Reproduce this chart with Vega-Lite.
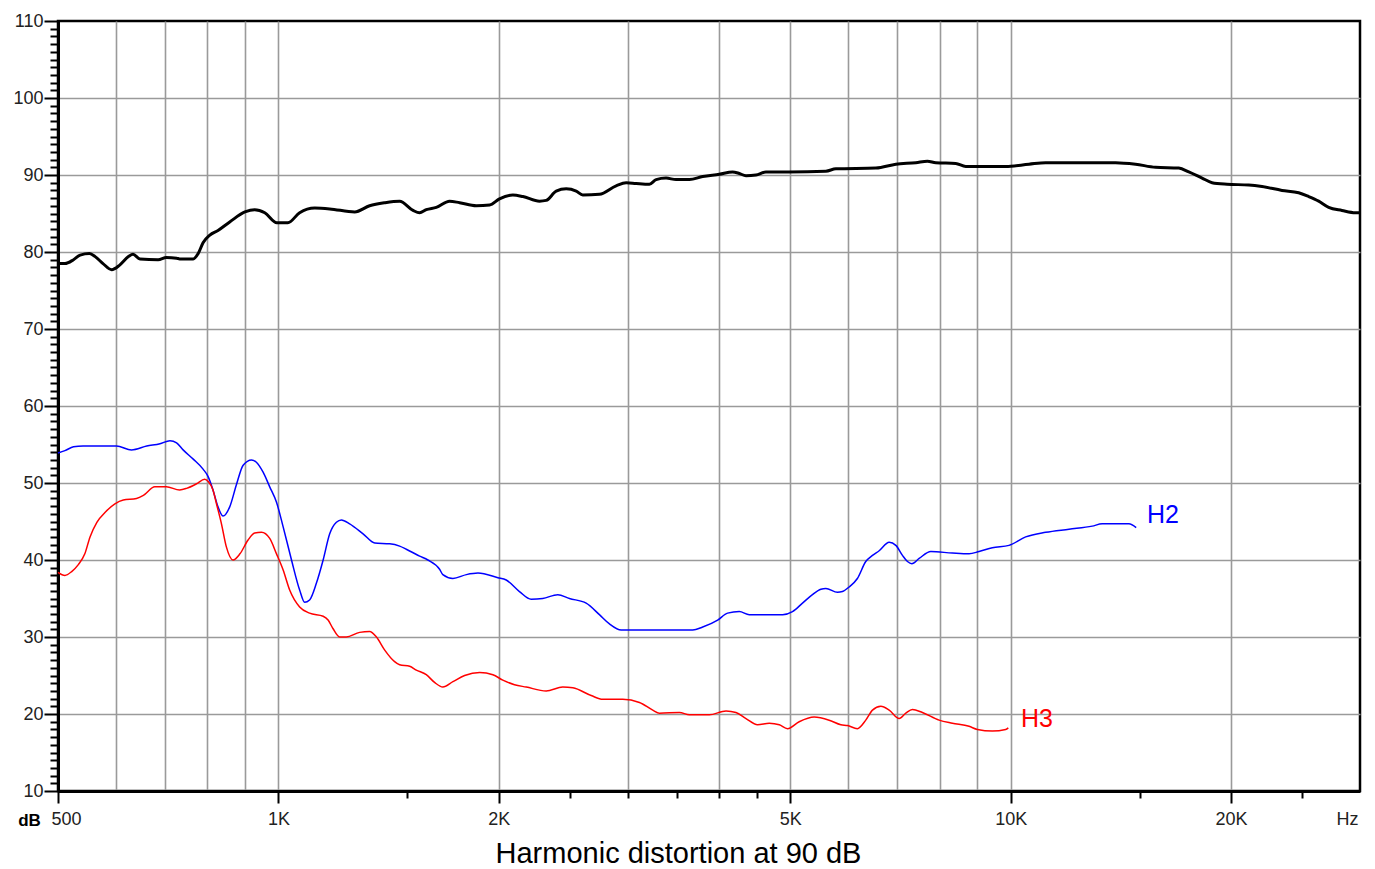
{
  "$schema": "https://vega.github.io/schema/vega-lite/v6.json",
  "width": 1302,
  "height": 770,
  "autosize": {"type": "none"},
  "padding": {"left": 58, "top": 21, "right": 15, "bottom": 78},
  "background": "#ffffff",
  "config": {
    "view": {"stroke": "#000000", "strokeWidth": 2.5},
    "font": "Liberation Sans",
    "axis": {"labelFont": "Liberation Sans", "titleFont": "Liberation Sans"}
  },
  "datasets": {
    "curves": [
      {"s":"SPL","f":500,"db":78.5},{"s":"SPL","f":511,"db":78.5},{"s":"SPL","f":525,"db":79.0},{"s":"SPL","f":536,"db":79.6},{"s":"SPL","f":552,"db":79.8},{"s":"SPL","f":562,"db":79.4},{"s":"SPL","f":576,"db":78.5},{"s":"SPL","f":592,"db":77.7},{"s":"SPL","f":607,"db":78.3},{"s":"SPL","f":624,"db":79.4},{"s":"SPL","f":633,"db":79.7},{"s":"SPL","f":647,"db":79.1},{"s":"SPL","f":685,"db":79.0},{"s":"SPL","f":703,"db":79.3},{"s":"SPL","f":726,"db":79.2},{"s":"SPL","f":733,"db":79.1},{"s":"SPL","f":765,"db":79.1},{"s":"SPL","f":777,"db":79.8},{"s":"SPL","f":789,"db":81.2},{"s":"SPL","f":806,"db":82.2},{"s":"SPL","f":827,"db":82.8},{"s":"SPL","f":858,"db":83.9},{"s":"SPL","f":900,"db":85.2},{"s":"SPL","f":928,"db":85.5},{"s":"SPL","f":958,"db":85.1},{"s":"SPL","f":995,"db":83.8},{"s":"SPL","f":1030,"db":83.8},{"s":"SPL","f":1069,"db":85.1},{"s":"SPL","f":1121,"db":85.7},{"s":"SPL","f":1175,"db":85.6},{"s":"SPL","f":1271,"db":85.2},{"s":"SPL","f":1332,"db":86.0},{"s":"SPL","f":1397,"db":86.4},{"s":"SPL","f":1464,"db":86.6},{"s":"SPL","f":1527,"db":85.4},{"s":"SPL","f":1559,"db":85.1},{"s":"SPL","f":1592,"db":85.5},{"s":"SPL","f":1643,"db":85.8},{"s":"SPL","f":1713,"db":86.6},{"s":"SPL","f":1768,"db":86.4},{"s":"SPL","f":1863,"db":86.0},{"s":"SPL","f":1943,"db":86.1},{"s":"SPL","f":2004,"db":86.9},{"s":"SPL","f":2090,"db":87.4},{"s":"SPL","f":2157,"db":87.2},{"s":"SPL","f":2273,"db":86.6},{"s":"SPL","f":2321,"db":86.7},{"s":"SPL","f":2395,"db":87.9},{"s":"SPL","f":2472,"db":88.2},{"s":"SPL","f":2551,"db":87.9},{"s":"SPL","f":2604,"db":87.4},{"s":"SPL","f":2744,"db":87.5},{"s":"SPL","f":2892,"db":88.6},{"s":"SPL","f":2985,"db":89.0},{"s":"SPL","f":3080,"db":88.9},{"s":"SPL","f":3211,"db":88.8},{"s":"SPL","f":3280,"db":89.4},{"s":"SPL","f":3384,"db":89.6},{"s":"SPL","f":3492,"db":89.4},{"s":"SPL","f":3641,"db":89.4},{"s":"SPL","f":3797,"db":89.8},{"s":"SPL","f":4001,"db":90.1},{"s":"SPL","f":4171,"db":90.4},{"s":"SPL","f":4260,"db":90.2},{"s":"SPL","f":4351,"db":89.9},{"s":"SPL","f":4489,"db":90.0},{"s":"SPL","f":4633,"db":90.4},{"s":"SPL","f":4984,"db":90.4},{"s":"SPL","f":5593,"db":90.5},{"s":"SPL","f":5772,"db":90.8},{"s":"SPL","f":6546,"db":90.9},{"s":"SPL","f":6970,"db":91.4},{"s":"SPL","f":7422,"db":91.6},{"s":"SPL","f":7697,"db":91.8},{"s":"SPL","f":7903,"db":91.6},{"s":"SPL","f":8415,"db":91.5},{"s":"SPL","f":8684,"db":91.1},{"s":"SPL","f":9846,"db":91.1},{"s":"SPL","f":10594,"db":91.4},{"s":"SPL","f":11164,"db":91.6},{"s":"SPL","f":13910,"db":91.6},{"s":"SPL","f":14812,"db":91.4},{"s":"SPL","f":15771,"db":91.0},{"s":"SPL","f":16969,"db":90.9},{"s":"SPL","f":17510,"db":90.4},{"s":"SPL","f":18257,"db":89.6},{"s":"SPL","f":18840,"db":89.0},{"s":"SPL","f":19749,"db":88.8},{"s":"SPL","f":21142,"db":88.7},{"s":"SPL","f":22044,"db":88.5},{"s":"SPL","f":23475,"db":88.0},{"s":"SPL","f":24740,"db":87.7},{"s":"SPL","f":25530,"db":87.2},{"s":"SPL","f":26345,"db":86.6},{"s":"SPL","f":27186,"db":85.8},{"s":"SPL","f":28344,"db":85.4},{"s":"SPL","f":29563,"db":85.1},{"s":"SPL","f":30000,"db":85.1},

      {"s":"H2","f":500,"db":53.9},{"s":"H2","f":511,"db":54.2},{"s":"H2","f":525,"db":54.7},{"s":"H2","f":541,"db":54.8},{"s":"H2","f":601,"db":54.8},{"s":"H2","f":630,"db":54.3},{"s":"H2","f":661,"db":54.8},{"s":"H2","f":689,"db":55.1},{"s":"H2","f":711,"db":55.5},{"s":"H2","f":726,"db":55.2},{"s":"H2","f":741,"db":54.3},{"s":"H2","f":765,"db":53.1},{"s":"H2","f":789,"db":51.8},{"s":"H2","f":802,"db":50.8},{"s":"H2","f":814,"db":49.1},{"s":"H2","f":827,"db":46.9},{"s":"H2","f":840,"db":45.7},{"s":"H2","f":858,"db":46.9},{"s":"H2","f":877,"db":49.9},{"s":"H2","f":895,"db":52.3},{"s":"H2","f":919,"db":53.0},{"s":"H2","f":933,"db":52.7},{"s":"H2","f":953,"db":51.4},{"s":"H2","f":973,"db":49.5},{"s":"H2","f":994,"db":47.5},{"s":"H2","f":1015,"db":44.3},{"s":"H2","f":1042,"db":40.0},{"s":"H2","f":1069,"db":36.1},{"s":"H2","f":1086,"db":34.5},{"s":"H2","f":1103,"db":34.8},{"s":"H2","f":1127,"db":37.0},{"s":"H2","f":1151,"db":40.0},{"s":"H2","f":1175,"db":43.4},{"s":"H2","f":1200,"db":44.9},{"s":"H2","f":1219,"db":45.2},{"s":"H2","f":1251,"db":44.7},{"s":"H2","f":1305,"db":43.4},{"s":"H2","f":1354,"db":42.2},{"s":"H2","f":1419,"db":42.1},{"s":"H2","f":1464,"db":41.8},{"s":"H2","f":1495,"db":41.4},{"s":"H2","f":1559,"db":40.5},{"s":"H2","f":1600,"db":40.0},{"s":"H2","f":1660,"db":38.8},{"s":"H2","f":1677,"db":38.1},{"s":"H2","f":1731,"db":37.6},{"s":"H2","f":1806,"db":38.1},{"s":"H2","f":1873,"db":38.3},{"s":"H2","f":1994,"db":37.7},{"s":"H2","f":2047,"db":37.4},{"s":"H2","f":2134,"db":35.9},{"s":"H2","f":2214,"db":34.9},{"s":"H2","f":2296,"db":35.0},{"s":"H2","f":2407,"db":35.5},{"s":"H2","f":2497,"db":35.0},{"s":"H2","f":2632,"db":34.4},{"s":"H2","f":2744,"db":32.9},{"s":"H2","f":2832,"db":31.7},{"s":"H2","f":2938,"db":30.9},{"s":"H2","f":3679,"db":30.9},{"s":"H2","f":3797,"db":31.3},{"s":"H2","f":3980,"db":32.2},{"s":"H2","f":4106,"db":33.1},{"s":"H2","f":4260,"db":33.3},{"s":"H2","f":4396,"db":32.9},{"s":"H2","f":4882,"db":32.9},{"s":"H2","f":5036,"db":33.3},{"s":"H2","f":5197,"db":34.4},{"s":"H2","f":5362,"db":35.5},{"s":"H2","f":5506,"db":36.2},{"s":"H2","f":5593,"db":36.3},{"s":"H2","f":5801,"db":35.8},{"s":"H2","f":5892,"db":35.9},{"s":"H2","f":6018,"db":36.5},{"s":"H2","f":6176,"db":37.6},{"s":"H2","f":6341,"db":39.8},{"s":"H2","f":6476,"db":40.6},{"s":"H2","f":6614,"db":41.2},{"s":"H2","f":6825,"db":42.3},{"s":"H2","f":6970,"db":41.9},{"s":"H2","f":7116,"db":40.6},{"s":"H2","f":7229,"db":39.8},{"s":"H2","f":7329,"db":39.5},{"s":"H2","f":7500,"db":40.2},{"s":"H2","f":7780,"db":41.1},{"s":"H2","f":8326,"db":40.9},{"s":"H2","f":8774,"db":40.8},{"s":"H2","f":9054,"db":41.1},{"s":"H2","f":9441,"db":41.6},{"s":"H2","f":9948,"db":41.9},{"s":"H2","f":10484,"db":43.0},{"s":"H2","f":11164,"db":43.6},{"s":"H2","f":12015,"db":44.0},{"s":"H2","f":12924,"db":44.4},{"s":"H2","f":13337,"db":44.7},{"s":"H2","f":14504,"db":44.7},{"s":"H2","f":14840,"db":44.2},

      {"s":"H3","f":500,"db":38.4},{"s":"H3","f":511,"db":38.0},{"s":"H3","f":522,"db":38.5},{"s":"H3","f":533,"db":39.4},{"s":"H3","f":544,"db":40.8},{"s":"H3","f":553,"db":43.0},{"s":"H3","f":565,"db":44.9},{"s":"H3","f":580,"db":46.2},{"s":"H3","f":598,"db":47.3},{"s":"H3","f":614,"db":47.8},{"s":"H3","f":640,"db":48.0},{"s":"H3","f":654,"db":48.4},{"s":"H3","f":678,"db":49.5},{"s":"H3","f":703,"db":49.5},{"s":"H3","f":733,"db":49.1},{"s":"H3","f":749,"db":49.3},{"s":"H3","f":773,"db":49.9},{"s":"H3","f":793,"db":50.5},{"s":"H3","f":802,"db":50.2},{"s":"H3","f":814,"db":49.1},{"s":"H3","f":823,"db":47.3},{"s":"H3","f":836,"db":44.7},{"s":"H3","f":849,"db":41.7},{"s":"H3","f":867,"db":40.0},{"s":"H3","f":886,"db":40.8},{"s":"H3","f":909,"db":42.6},{"s":"H3","f":928,"db":43.5},{"s":"H3","f":948,"db":43.6},{"s":"H3","f":973,"db":42.8},{"s":"H3","f":994,"db":40.8},{"s":"H3","f":1015,"db":38.7},{"s":"H3","f":1036,"db":36.1},{"s":"H3","f":1069,"db":33.9},{"s":"H3","f":1103,"db":33.1},{"s":"H3","f":1151,"db":32.7},{"s":"H3","f":1169,"db":32.2},{"s":"H3","f":1187,"db":31.1},{"s":"H3","f":1212,"db":30.0},{"s":"H3","f":1238,"db":30.0},{"s":"H3","f":1291,"db":30.6},{"s":"H3","f":1332,"db":30.7},{"s":"H3","f":1361,"db":30.0},{"s":"H3","f":1397,"db":28.3},{"s":"H3","f":1441,"db":26.8},{"s":"H3","f":1464,"db":26.4},{"s":"H3","f":1511,"db":26.2},{"s":"H3","f":1543,"db":25.7},{"s":"H3","f":1592,"db":25.1},{"s":"H3","f":1634,"db":24.1},{"s":"H3","f":1677,"db":23.5},{"s":"H3","f":1731,"db":24.2},{"s":"H3","f":1796,"db":25.0},{"s":"H3","f":1883,"db":25.4},{"s":"H3","f":1963,"db":25.1},{"s":"H3","f":2025,"db":24.4},{"s":"H3","f":2101,"db":23.8},{"s":"H3","f":2180,"db":23.5},{"s":"H3","f":2321,"db":23.0},{"s":"H3","f":2445,"db":23.5},{"s":"H3","f":2524,"db":23.4},{"s":"H3","f":2674,"db":22.4},{"s":"H3","f":2773,"db":21.9},{"s":"H3","f":2953,"db":21.9},{"s":"H3","f":3112,"db":21.5},{"s":"H3","f":3245,"db":20.5},{"s":"H3","f":3314,"db":20.1},{"s":"H3","f":3529,"db":20.2},{"s":"H3","f":3641,"db":19.9},{"s":"H3","f":3877,"db":19.9},{"s":"H3","f":4086,"db":20.4},{"s":"H3","f":4216,"db":20.2},{"s":"H3","f":4351,"db":19.4},{"s":"H3","f":4512,"db":18.6},{"s":"H3","f":4681,"db":18.8},{"s":"H3","f":4832,"db":18.6},{"s":"H3","f":4958,"db":18.1},{"s":"H3","f":5143,"db":19.0},{"s":"H3","f":5391,"db":19.6},{"s":"H3","f":5651,"db":19.2},{"s":"H3","f":5863,"db":18.6},{"s":"H3","f":5986,"db":18.5},{"s":"H3","f":6176,"db":18.1},{"s":"H3","f":6341,"db":19.2},{"s":"H3","f":6476,"db":20.5},{"s":"H3","f":6649,"db":21.0},{"s":"H3","f":6825,"db":20.5},{"s":"H3","f":7043,"db":19.4},{"s":"H3","f":7192,"db":20.1},{"s":"H3","f":7342,"db":20.6},{"s":"H3","f":7577,"db":20.2},{"s":"H3","f":7985,"db":19.2},{"s":"H3","f":8326,"db":18.8},{"s":"H3","f":8774,"db":18.4},{"s":"H3","f":9006,"db":18.0},{"s":"H3","f":9441,"db":17.8},{"s":"H3","f":9846,"db":18.0},{"s":"H3","f":9927,"db":18.2}
    ],
    "labels": [
      {"s":"H2","f":15350,"db":45.9},
      {"s":"H3","f":10330,"db":19.3}
    ]
  },
  "encoding": {
    "x": {
      "field": "f", "type": "quantitative",
      "scale": {"type": "log", "domain": [500, 30000], "nice": false, "zero": false},
      "axis": {
        "values": [500,600,700,800,900,1000,1500,2000,2500,3000,3500,4000,4500,5000,6000,7000,8000,9000,10000,15000,20000,25000,30000],
        "labelExpr": "datum.value==500?'500':datum.value==1000?'1K':datum.value==2000?'2K':datum.value==5000?'5K':datum.value==10000?'10K':datum.value==20000?'20K':datum.value==30000?'Hz':''",
        "labelOverlap": false,
        "labelBound": false,
        "labelFlush": false,
        "labelFontSize": 18,
        "labelColor": "#222222",
        "labelPadding": 7,
        "labelAlign": {"condition": {"test": "datum.value==30000", "value": "right"}, "value": "center"},
        "labelOffset": {"condition": [{"test": "datum.value==500", "value": 8}, {"test": "datum.value==30000", "value": -2}], "value": 0},
        "grid": true,
        "gridColor": "#9a9a9a",
        "gridWidth": 1.6,
        "gridOpacity": {"condition": {"test": "indexof([600,700,800,900,1000,2000,3000,4000,5000,6000,7000,8000,9000,10000,20000], datum.value) >= 0", "value": 1}, "value": 0},
        "ticks": true,
        "tickColor": "#000000",
        "tickWidth": 2,
        "tickOpacity": {"condition": {"test": "indexof([500,1000,1500,2000,2500,3000,3500,4000,4500,5000,10000,15000,20000,25000], datum.value) >= 0", "value": 1}, "value": 0},
        "tickSize": {"condition": {"test": "indexof([500,1000,2000,5000,10000,20000,30000], datum.value) >= 0", "value": 12}, "value": 7},
        "domainColor": "#000000",
        "domainWidth": 3,
        "title": "Harmonic distortion at 90 dB",
        "titleFontSize": 29,
        "titleFontWeight": "normal",
        "titleColor": "#000000",
        "titleX": 620,
        "titleY": 71,
        "titleAlign": "center",
        "titleBaseline": "alphabetic",
        "titleAnchor": null
      }
    },
    "y": {
      "field": "db", "type": "quantitative",
      "scale": {"domain": [10, 110], "nice": false, "zero": false},
      "axis": {
        "values": [10,11,12,13,14,15,16,17,18,19,20,21,22,23,24,25,26,27,28,29,30,31,32,33,34,35,36,37,38,39,40,41,42,43,44,45,46,47,48,49,50,51,52,53,54,55,56,57,58,59,60,61,62,63,64,65,66,67,68,69,70,71,72,73,74,75,76,77,78,79,80,81,82,83,84,85,86,87,88,89,90,91,92,93,94,95,96,97,98,99,100,101,102,103,104,105,106,107,108,109,110],
        "labelExpr": "datum.value % 10 == 0 ? datum.value : ''",
        "labelOverlap": false,
        "labelBound": false,
        "labelFlush": false,
        "labelFontSize": 18,
        "labelColor": "#222222",
        "labelPadding": 1,
        "labelBaseline": "middle",
        "grid": true,
        "gridColor": "#9a9a9a",
        "gridWidth": 1.6,
        "gridOpacity": {"condition": {"test": "datum.value % 10 == 0 && datum.value > 10 && datum.value < 110", "value": 1}, "value": 0},
        "tickColor": "#000000",
        "tickWidth": 2,
        "tickSize": {"condition": {"test": "datum.value % 10 == 0", "value": 14}, "value": 8},
        "domainColor": "#000000",
        "domainWidth": 3,
        "title": "dB",
        "titleFontSize": 17,
        "titleFontWeight": "bold",
        "titleColor": "#000000",
        "titleAngle": 0,
        "titleX": -29,
        "titleY": 804,
        "titleAlign": "center",
        "titleBaseline": "alphabetic",
        "titleAnchor": null
      }
    },
    "color": {
      "field": "s", "type": "nominal",
      "scale": {"domain": ["SPL", "H2", "H3"], "range": ["#000000", "#0000ff", "#ff0000"]},
      "legend": null
    }
  },
  "layer": [
    {
      "data": {"name": "curves"},
      "transform": [{"filter": "datum.s == 'SPL'"}],
      "mark": {"type": "line", "strokeWidth": 3, "interpolate": "monotone"}
    },
    {
      "data": {"name": "curves"},
      "transform": [{"filter": "datum.s != 'SPL'"}],
      "mark": {"type": "line", "strokeWidth": 1.5, "interpolate": "monotone"}
    },
    {
      "data": {"name": "labels"},
      "mark": {"type": "text", "align": "left", "baseline": "middle", "fontSize": 25, "font": "Liberation Sans"},
      "encoding": {"text": {"field": "s", "type": "nominal"}}
    }
  ]
}
